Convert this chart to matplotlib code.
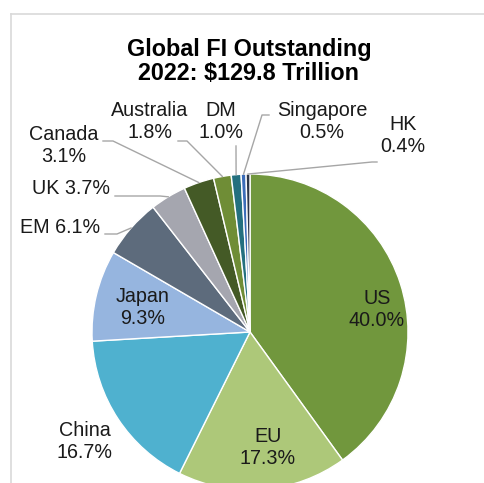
import numpy as np
import matplotlib
matplotlib.use("Agg")
import matplotlib.pyplot as plt

plt.rcParams['font.family'] = ['Liberation Sans', 'DejaVu Sans']

title_lines = ["Global FI Outstanding", "2022: $129.8 Trillion"]
regions = ["US", "EU", "China", "Japan", "EM", "UK", "Canada", "Australia", "DM", "Singapore", "HK"]
shares = [40.0, 17.3, 16.7, 9.3, 6.1, 3.7, 3.1, 1.8, 1.0, 0.5, 0.4]
colors = ["#71973D", "#ADC879", "#4FB1CF", "#96B5DF", "#5D6B7C", "#A5A6AF",
          "#445A26", "#6F8D36", "#24707F", "#3C6DB9", "#2B3548"]

W, H = 485, 483
fig = plt.figure(figsize=(W / 100, H / 100), dpi=100)
ax = fig.add_axes([0, 0, 1, 1])

cx, cy, R = 250, H - 332, 158
wedges, _ = ax.pie(shares, colors=colors, startangle=90, counterclock=False,
                   center=(cx, cy), radius=R,
                   wedgeprops=dict(edgecolor="white", linewidth=1.0))
ax.set_xlim(0, W)
ax.set_ylim(0, H)
ax.set_aspect('equal')
ax.axis('off')

# chart frame (top and left visible)
ax.plot([11, W + 5], [H - 14, H - 14], color="#D9D9D9", lw=1.2, clip_on=False)
ax.plot([11, 11], [H - 14, -5], color="#D9D9D9", lw=1.2, clip_on=False)

# title
ax.text(249, H - 47, title_lines[0], ha="center", va="center_baseline", fontsize=16.8, fontweight="bold")
ax.text(249, H - 71, title_lines[1], ha="center", va="center_baseline", fontsize=16.8, fontweight="bold")

def lab(i, sep="\n"):
    return f"{regions[i]}{sep}{shares[i]:.1f}%"

# label positions (pixel, from top) and layout
label_pos = {
    "US": (377, 310, "\n"),
    "EU": (268, 447, "\n"),
    "China": (85, 441, "\n"),
    "Japan": (143, 308, "\n"),
    "EM": (60, 228, " "),
    "UK": (71, 188, " "),
    "Canada": (64, 146, "\n"),
    "Australia": (150, 122, "\n"),
    "DM": (221, 121, "\n"),
    "Singapore": (322, 121, "\n"),
    "HK": (403, 135, "\n"),
}
for i, r in enumerate(regions):
    x, y, sep = label_pos[r]
    ax.text(x, H - y, lab(i, sep), ha="center", va="center", fontsize=14.2,
            linespacing=1.2, color="#1a1a1a")

# leader lines: label-side points (pixel from top), ending at wedge mid-angle edge
leaders = {
    "EM": [(105, 234), (117, 234)],
    "UK": [(115, 196), (160, 196)],
    "Canada": [(103, 141), (113, 141)],
    "Australia": [(178, 141), (187, 141)],
    "DM": [(236, 146), (236, 150)],
    "Singapore": [(269, 115), (262, 115)],
    "HK": [(377, 162), (372, 162)],
}
for i, w in enumerate(wedges):
    r = regions[i]
    if r not in leaders:
        continue
    th = np.deg2rad((w.theta1 + w.theta2) / 2)
    ex, ey = cx + R * np.cos(th), cy + R * np.sin(th)
    pts = [(px, H - py) for px, py in leaders[r]] + [(ex, ey)]
    xs, ys = zip(*pts)
    ax.plot(xs, ys, color="#A6A6A6", lw=1.0)

fig.savefig("out.png", dpi=100)
